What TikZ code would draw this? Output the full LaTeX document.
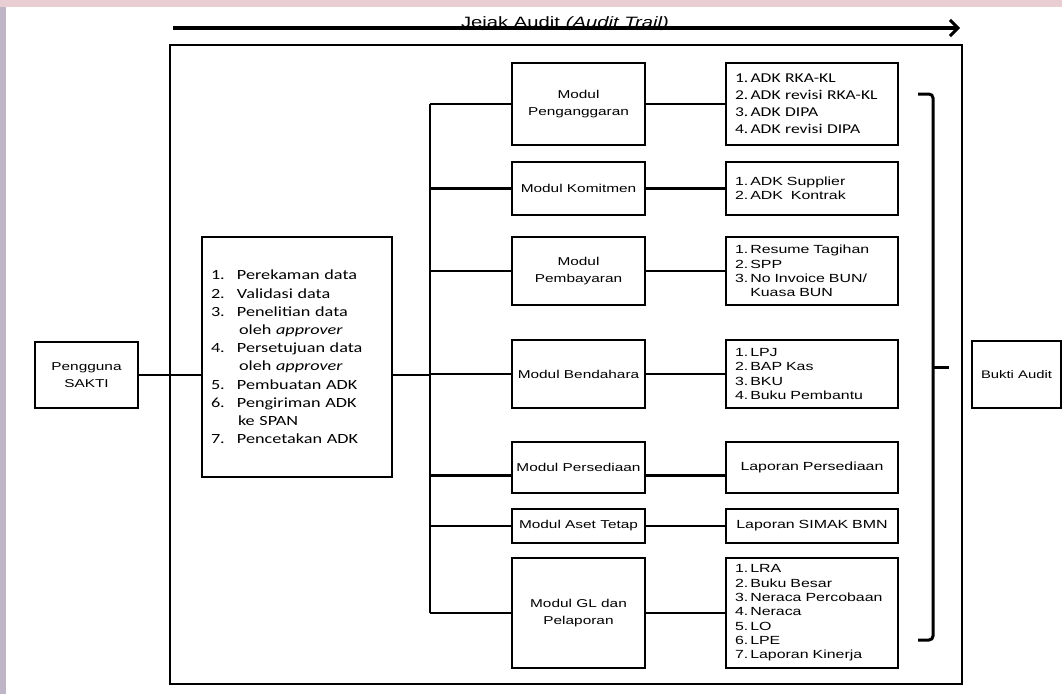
\documentclass[tikz,border=0pt]{standalone}
\usepackage{fontspec}
\setmainfont{Liberation Sans}[FakeStretch = 1.35]
\newfontfamily\calibri{Carlito}[FakeStretch = 1.3]
\usetikzlibrary{arrows.meta}

\definecolor{skytop}{RGB}{232,206,210}
\definecolor{skyleft}{RGB}{190,182,198}

\newcommand{\modfont}{\fontsize{11.4}{17}\selectfont}
\newcommand{\outfont}{\fontsize{11.8}{14.3}\selectfont}
\newcommand{\adkfont}{\calibri\fontsize{13.5}{17}\selectfont}
\newcommand{\num}[1]{#1.\,}

\begin{document}
\begin{tikzpicture}[x = 1pt, y = -1pt, > = {Straight Barb[length = 8pt, width = 16pt, line width = 3pt]},
	every node/.style = {inner sep = 0pt},
	frame/.style = {draw, line width = 2.3pt},
	wire/.style = {line width = 2.3pt},
	modbox/.style = {frame, minimum width = 133pt, align = center, font = \modfont},
	outbox/.style = {frame, minimum width = 172pt, text width = 154pt, align = left, font = \outfont}]

	% Background
	
	\useasboundingbox (0, 0) rectangle (1062, 694);
	\fill [white] (0, 0) rectangle (1062, 694);
	\fill [skytop] (0, 0) rectangle (1062, 7);
	\fill [skyleft] (0, 7) rectangle (6, 694);
	
	% Audit trail arrow
	
	\draw [->, line width = 3.2pt] (173, 28) -- (960, 28);
	\node [anchor = base, font = \fontsize{15}{15}\selectfont] (trail) at (565, 27) {Jejak Audit \textit{(Audit Trail)}};
	
	% Outer frame
	
	\draw [frame] (170, 45) rectangle (962, 684);
	
	% User and process list
	
	\node [frame, minimum width = 103pt, minimum height = 66pt, align = center, font = \modfont] (pengguna) at (86.5, 375) {Pengguna\\SAKTI};
	\node [frame, minimum width = 190pt, minimum height = 240pt, text width = 172pt, align = left,
		font = \calibri\fontsize{14}{18.2}\selectfont] (proses) at (297, 357) {%
		\makebox[26pt][l]{1.}Perekaman data\\
		\makebox[26pt][l]{2.}Validasi data\\
		\makebox[26pt][l]{3.}Penelitian data\\
		\hspace*{28pt}oleh \textit{approver}\\
		\makebox[26pt][l]{4.}Persetujuan data\\
		\hspace*{28pt}oleh \textit{approver}\\
		\makebox[26pt][l]{5.}Pembuatan ADK\\
		\makebox[26pt][l]{6.}Pengiriman ADK\\
		\hspace*{27pt}ke SPAN\\
		\makebox[26pt][l]{7.}Pencetakan ADK};
	
	% Modules
	
	\node [modbox, minimum height = 82pt] (anggaran) at (578.5, 104) {Modul\\Penganggaran};
	\node [modbox, minimum height = 53pt] (komitmen) at (578.5, 188.5) {Modul Komitmen};
	\node [modbox, minimum height = 68pt] (bayar) at (578.5, 271) {Modul\\Pembayaran};
	\node [modbox, minimum height = 68pt] (bendahara) at (578.5, 374) {Modul Bendahara};
	\node [modbox, minimum height = 51pt] (sedia) at (578.5, 467.5) {Modul Persediaan};
	\node [modbox, minimum height = 34pt] (aset) at (578.5, 526) {Modul Aset Tetap};
	\node [modbox, minimum height = 110pt] (gl) at (578.5, 613) {Modul GL dan\\Pelaporan};
	
	% Outputs
	
	\node [outbox, minimum height = 82pt, font = \adkfont] (out-anggaran) at (812, 104) {%
		\num{1}ADK RKA-KL\\ \num{2}ADK revisi RKA-KL\\ \num{3}ADK DIPA\\ \num{4}ADK revisi DIPA};
	\node [outbox, minimum height = 53pt] (out-komitmen) at (812, 188.5) {%
		\num{1}ADK Supplier\\ \num{2}ADK\ \ Kontrak};
	\node [outbox, minimum height = 68pt] (out-bayar) at (812, 271) {%
		\num{1}Resume Tagihan\\ \num{2}SPP\\ \num{3}No Invoice BUN/\\ \phantom{\num{3}}Kuasa BUN};
	\node [outbox, minimum height = 68pt] (out-bendahara) at (812, 374) {%
		\num{1}LPJ\\ \num{2}BAP Kas\\ \num{3}BKU\\ \num{4}Buku Pembantu};
	\node [outbox, minimum height = 51pt, align = center] (out-sedia) at (812, 467.5) {Laporan Persediaan};
	\node [outbox, minimum height = 34pt, align = center] (out-aset) at (812, 526) {Laporan SIMAK BMN};
	\node [outbox, minimum height = 110pt] (out-gl) at (812, 613) {%
		\num{1}LRA\\ \num{2}Buku Besar\\ \num{3}Neraca Percobaan\\ \num{4}Neraca\\ \num{5}LO\\ \num{6}LPE\\ \num{7}Laporan Kinerja};
	
	% Connectors
	
	\coordinate (bus-top) at (430, 104);
	\coordinate (bus-bot) at (430, 613);
	\draw [wire] (bus-top) -- (bus-bot);
	\draw [wire] (pengguna.east) -- (pengguna.east -| proses.west);
	\draw [wire] (proses.east |- pengguna.east) -- (pengguna.east -| bus-top);
	\foreach \m in {anggaran, komitmen, bayar, bendahara, aset, gl}
		\draw [wire] (\m.west -| bus-top) -- (\m.west) (\m.east) -- (out-\m.west);
	\draw [wire] ([yshift = -8pt] sedia.west -| bus-top) -- ([yshift = -8pt] sedia.west)
		([yshift = -8pt] sedia.east) -- ([yshift = -8pt] out-sedia.west);
	
	% Bracket and audit evidence
	
	\node [frame, minimum width = 89pt, minimum height = 67pt, font = \fontsize{11}{13}\selectfont] (bukti) at (1016.5, 374.5) {Bukti Audit};
	\coordinate (brace-top) at (918, 94);
	\coordinate (brace-bot) at (918, 640);
	\coordinate (brace-tip) at (949, 367);
	\draw [line width = 3pt, rounded corners = 4pt] (brace-top) -- (933, 94) -- (933, 640) -- (brace-bot);
	\draw [line width = 3pt] (933, 367) -- (brace-tip);
	
\end{tikzpicture}
\end{document}
